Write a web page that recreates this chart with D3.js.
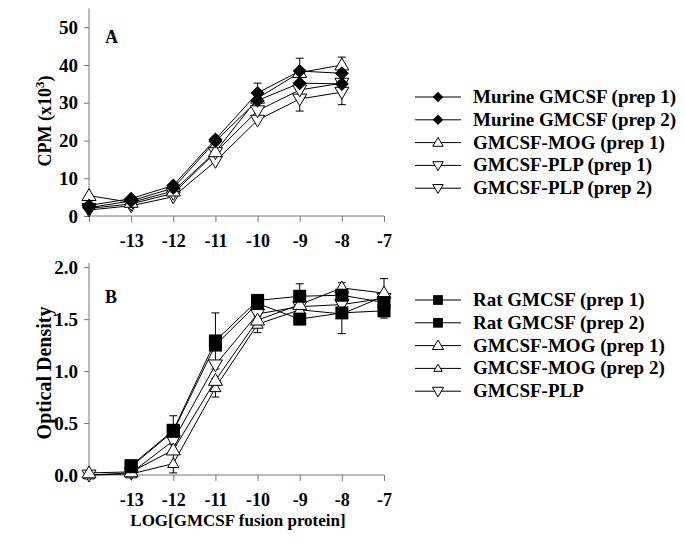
<!DOCTYPE html>
<html><head><meta charset="utf-8">
<script src="https://cdn.jsdelivr.net/npm/d3@7"></script>
<style>
html,body{margin:0;padding:0;background:#fff;}
svg text{font-family:"Liberation Serif","Times New Roman",serif;font-weight:bold;fill:#000;}
</style></head><body>
<svg id="c" width="685" height="551"></svg>
<script>
// ---------- data ----------
const xValuesA = [-14, -13, -12, -11, -10, -9, -8];
const xValuesB = [-14, -13, -12, -11, -10, -9, -8, -7];
const xTickLabels = [-13, -12, -11, -10, -9, -8, -7];

const seriesNamesA = ["Murine GMCSF (prep 1)", "Murine GMCSF (prep 2)", "GMCSF-MOG (prep 1)", "GMCSF-PLP (prep 1)", "GMCSF-PLP (prep 2)"];
const murine1 = [2.8, 4.6, 8.1, 20.3, 32.6, 38.4, 37.8];
const murine2 = [2.2, 4.0, 7.4, 19.8, 30.6, 35.2, 35.0];
const mogA1   = [5.4, 3.6, 6.6, 17.0, 31.2, 38.0, 40.0];
const plpA1   = [2.0, 3.2, 6.0, 16.8, 27.9, 33.4, 35.2];
const plpA2   = [1.6, 2.7, 5.1, 14.5, 25.4, 31.0, 32.8];
const errMurine1 = [0, 0, 0, 0, 2.6, 3.4, 0];
const errMurine2 = [0, 0, 0, 0, 0, 0, 0];
const errMogA1   = [0, 0, 0, 0, 0, 0, 2.1];
const errPlpA1   = [0, 0, 0, 0, 0, 0, 0];
const errPlpA2   = [0, 0, 0, 0, 0, 3.2, 3.3];

const seriesNamesB = ["Rat GMCSF (prep 1)", "Rat GMCSF (prep 2)", "GMCSF-MOG (prep 1)", "GMCSF-MOG (prep 2)", "GMCSF-PLP"];
const rat1  = [null, 0.09, 0.43, 1.29, 1.68, 1.72, 1.73, 1.66];
const rat2  = [null, 0.08, 0.42, 1.25, 1.65, 1.50, 1.56, 1.58];
const mogB1 = [0.02, 0.03, 0.24, 0.91, 1.49, 1.64, 1.80, 1.75];
const mogB2 = [0.00, 0.01, 0.11, 0.84, 1.45, 1.59, 1.55, 1.72];
const plpB  = [0.00, 0.02, 0.33, 1.06, 1.55, 1.62, 1.64, 1.70];
const errRat1  = [0, 0, 0.14, 0.27, 0, 0.12, 0, 0];
const errRat2  = [0, 0, 0, 0, 0, 0, 0.20, 0.07];
const errMogB1 = [0, 0, 0, 0, 0, 0, 0.05, 0.14];
const errMogB2 = [0, 0, 0.09, 0.09, 0.08, 0, 0, 0];
const errPlpB  = [0, 0, 0, 0, 0, 0, 0, 0];

// ---------- drawing ----------
const svg = d3.select("#c");
const axisColor = "#777";

function marker(g, type, x, y, s) {
  if (type === "diamond") {
    const r = 7 * s;
    g.append("path").attr("d", `M${x},${y - r}L${x + r},${y}L${x},${y + r}L${x - r},${y}Z`).attr("fill", "#000");
  } else if (type === "square") {
    const h = 6.5 * s;
    g.append("rect").attr("x", x - h).attr("y", y - h).attr("width", 2 * h).attr("height", 2 * h).attr("fill", "#000");
  } else if (type === "up") {
    const w = 7 * s, hh = 7 * s;
    g.append("path").attr("d", `M${x},${y - hh}L${x + w},${y + hh * 0.7}L${x - w},${y + hh * 0.7}Z`).attr("fill", "#fff").attr("stroke", "#000").attr("stroke-width", 1);
  } else if (type === "down") {
    const w = 7 * s, hh = 7 * s;
    g.append("path").attr("d", `M${x},${y + hh}L${x + w},${y - hh * 0.7}L${x - w},${y - hh * 0.7}Z`).attr("fill", "#fff").attr("stroke", "#000").attr("stroke-width", 1);
  }
}

function panel(opts) {
  const { xs, series, yDomain, yRange, yTicks, yFmt, xRange, label, labelPos, legendNames, legendY } = opts;
  const x = d3.scaleLinear().domain([-14, -7]).range(xRange);
  const y = d3.scaleLinear().domain(yDomain).range(yRange);
  const g = svg.append("g");

  const yAx = g.append("g").attr("transform", `translate(${xRange[0]},0)`)
    .call(d3.axisLeft(y).tickValues(yTicks).tickFormat(yFmt).tickSize(5).tickPadding(6));
  yAx.select(".domain").attr("stroke", axisColor).attr("d", `M-0,${yRange[0]}V${yRange[1]}`);
  yAx.selectAll(".tick line").attr("stroke", axisColor);
  yAx.selectAll("text").style("font-size", "19px");

  const xAx = g.append("g").attr("transform", `translate(0,${yRange[0]})`)
    .call(d3.axisBottom(x).tickValues(d3.range(-14, -6)).tickFormat(d => xTickLabels.includes(d) ? d : "").tickSize(6).tickPadding(12));
  xAx.select(".domain").attr("stroke", axisColor).attr("d", `M${xRange[0]},0H${xRange[1]}`);
  xAx.selectAll(".tick line").attr("stroke", axisColor);
  xAx.selectAll("text").style("font-size", "18px");

  const line = d3.line().defined(d => d !== null).x((d, i) => x(xs[i])).y(d => y(d));
  series.forEach(s => {
    g.append("path").datum(s.values).attr("d", line).attr("fill", "none").attr("stroke", "#000").attr("stroke-width", 1);
  });
  series.forEach(s => {
    s.values.forEach((v, i) => {
      const e = s.err[i];
      if (!e || v === null) return;
      const cx = x(xs[i]);
      g.append("line").attr("x1", cx).attr("x2", cx).attr("y1", y(v - e)).attr("y2", y(v + e)).attr("stroke", "#000").attr("stroke-width", 1);
      [v - e, v + e].forEach(ev => g.append("line").attr("x1", cx - 4).attr("x2", cx + 4).attr("y1", y(ev)).attr("y2", y(ev)).attr("stroke", "#000").attr("stroke-width", 1));
    });
  });
  series.slice().reverse().forEach(s => {
    s.values.forEach((v, i) => { if (v !== null) marker(g, s.type, x(xs[i]), y(v), s.size); });
  });

  g.append("text").attr("x", labelPos[0]).attr("y", labelPos[1]).style("font-size", "18px").text(label);

  const lg = svg.append("g");
  series.forEach((s, i) => {
    const ly = legendY + i * 22.8;
    lg.append("line").attr("x1", 415).attr("x2", 461).attr("y1", ly).attr("y2", ly).attr("stroke", "#000").attr("stroke-width", 1);
    marker(lg, s.type, 438, ly, s.legendSize);
    lg.append("text").attr("x", 473).attr("y", ly + 6).style("font-size", "19px").text(legendNames[i]);
  });
}

panel({
  xs: xValuesA,
  series: [
    { values: murine1, err: errMurine1, type: "diamond", size: 1, legendSize: 0.75 },
    { values: murine2, err: errMurine2, type: "diamond", size: 1, legendSize: 0.75 },
    { values: mogA1, err: errMogA1, type: "up", size: 1, legendSize: 0.75 },
    { values: plpA1, err: errPlpA1, type: "down", size: 1, legendSize: 0.75 },
    { values: plpA2, err: errPlpA2, type: "down", size: 1, legendSize: 0.75 }
  ],
  yDomain: [0, 55], yRange: [216, 8.4], yTicks: [0, 10, 20, 30, 40, 50], yFmt: d3.format("d"),
  xRange: [89, 384], label: "A", labelPos: [105, 43],
  legendNames: seriesNamesA, legendY: 97
});

panel({
  xs: xValuesB,
  series: [
    { values: rat1, err: errRat1, type: "square", size: 1, legendSize: 0.75 },
    { values: rat2, err: errRat2, type: "square", size: 1, legendSize: 0.75 },
    { values: mogB1, err: errMogB1, type: "up", size: 1, legendSize: 0.8 },
    { values: mogB2, err: errMogB2, type: "up", size: 0.8, legendSize: 0.6 },
    { values: plpB, err: errPlpB, type: "down", size: 1, legendSize: 0.8 }
  ],
  yDomain: [0, 2.04], yRange: [475, 263], yTicks: [0, 0.5, 1.0, 1.5, 2.0], yFmt: d3.format(".1f"),
  xRange: [89, 384], label: "B", labelPos: [105, 303],
  legendNames: seriesNamesB, legendY: 300
});

svg.append("text").attr("transform", "translate(51,121) rotate(-90)").attr("text-anchor", "middle").style("font-size", "18px")
  .html('CPM (x10<tspan baseline-shift="super" font-size="13px">3</tspan>)');
svg.append("text").attr("transform", "translate(51,373) rotate(-90)").attr("text-anchor", "middle").style("font-size", "20px")
  .text("Optical Density");
svg.append("text").attr("x", 238).attr("y", 526).attr("text-anchor", "middle").style("font-size", "17px")
  .text("LOG[GMCSF fusion protein]");
</script>
</body></html>
